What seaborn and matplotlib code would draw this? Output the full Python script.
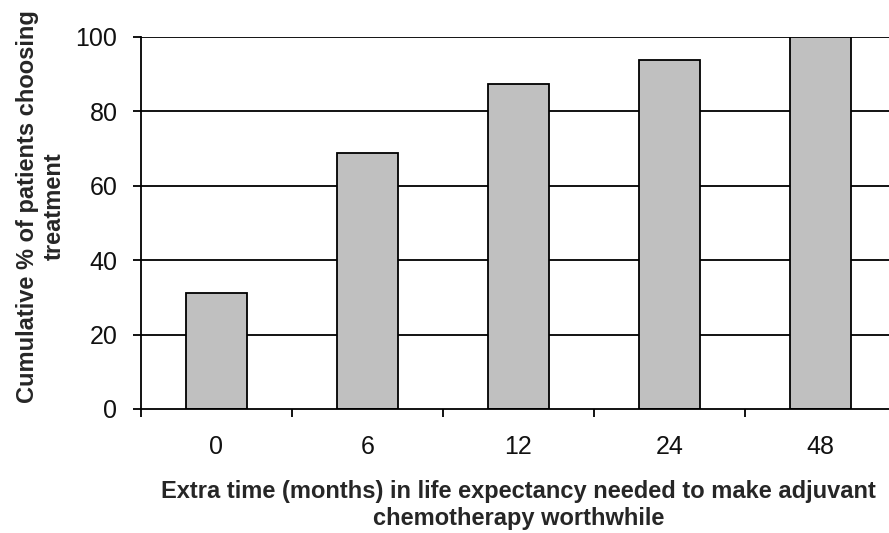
import matplotlib
matplotlib.use("Agg")
import matplotlib.pyplot as plt
import seaborn as sns
import pandas as pd
from matplotlib.ticker import FixedLocator

# Extra months of life expectancy and cumulative % of patients choosing treatment
months = ["0", "6", "12", "24", "48"]
cumulative_pct = [31.25, 68.75, 87.5, 93.75, 100.0]
y_ticks = [0, 20, 40, 60, 80, 100]

sns.set_theme(style="white")
plt.rcParams["font.family"] = ["Liberation Sans", "DejaVu Sans"]

df = pd.DataFrame({"months": months, "pct": cumulative_pct})

fig = plt.figure(figsize=(8.89, 5.33), dpi=100)
ax = fig.add_axes([141 / 889, 1 - 409 / 533, 755 / 889, 372 / 533])

sns.barplot(data=df, x="months", y="pct", order=months, width=0.4,
            color="#c0c0c0", saturation=1, edgecolor="black", linewidth=1.3,
            ax=ax, zorder=3)

ax.set_xlim(-0.5, 4.5)
ax.set_ylim(0, 100)
ax.set_yticks(y_ticks)
ax.set_yticklabels([str(v) for v in y_ticks])

# horizontal gridlines behind the bars
for v in y_ticks[1:]:
    ax.axhline(v, color="black", linewidth=1.3, zorder=1)

for s in ["top", "right"]:
    ax.spines[s].set_visible(False)
for s in ["left", "bottom"]:
    ax.spines[s].set_color("black")
    ax.spines[s].set_linewidth(1.3)
    ax.spines[s].set_zorder(4)

# category boundary ticks on the x axis
ax.xaxis.set_minor_locator(FixedLocator([-0.5, 0.5, 1.5, 2.5, 3.5]))
ax.tick_params(axis="x", which="major", length=0, pad=19, labelsize=18,
               labelcolor="#111111")
ax.tick_params(axis="x", which="minor", bottom=True, length=6, width=1.3,
               color="black", direction="out")
ax.tick_params(axis="y", which="major", left=True, length=6, width=1.3,
               color="black", direction="out", pad=11, labelsize=18,
               labelcolor="#111111")

ax.set_xlabel("Extra time (months) in life expectancy needed to make adjuvant\n"
              "chemotherapy worthwhile",
              fontsize=17, fontweight="bold", linespacing=1.25)
ax.set_ylabel("Cumulative % of patients choosing\ntreatment",
              fontsize=17, fontweight="bold", linespacing=1.2)
ax.xaxis.set_label_coords(0.5, -0.19)
ax.yaxis.set_label_coords(-0.10, 0.545)

fig.savefig("out.png", dpi=100, facecolor="white")
